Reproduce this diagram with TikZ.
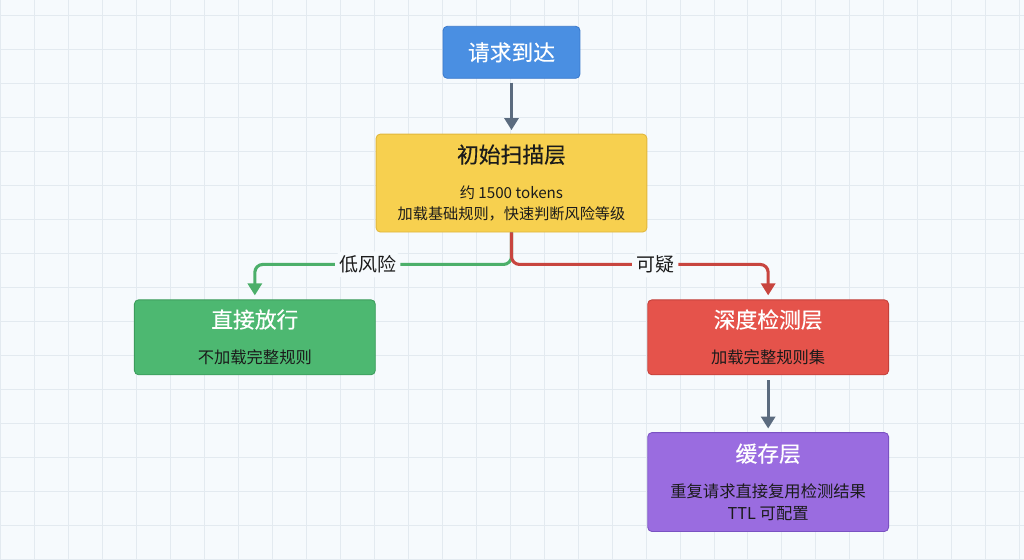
\documentclass[tikz,border=0pt]{standalone}
\usepackage{fontspec}
\setmainfont{Noto Sans CJK SC}
\usetikzlibrary{arrows.meta,positioning}
\definecolor{canvas}{HTML}{F6FAFD}
\definecolor{gridc}{HTML}{E3EAF0}
\definecolor{reqfill}{HTML}{4A8FE2}
\definecolor{reqline}{HTML}{3A79CC}
\definecolor{scanfill}{HTML}{F7D04F}
\definecolor{scanline}{HTML}{E0B63C}
\definecolor{passfill}{HTML}{4DB871}
\definecolor{passline}{HTML}{3C9C5C}
\definecolor{deepfill}{HTML}{E5534B}
\definecolor{deepline}{HTML}{C3403A}
\definecolor{cachefill}{HTML}{9A6CE0}
\definecolor{cacheline}{HTML}{7A52C2}
\definecolor{slate}{HTML}{5B6B7F}
\definecolor{lowc}{HTML}{4CAF6A}
\definecolor{suspc}{HTML}{C8453F}
\definecolor{ink}{HTML}{1B1B1B}
\newcommand{\ttl}{\fontsize{15.5pt}{19pt}\selectfont\addfontfeature{FakeBold=0.4}}
\newcommand{\bodyS}{\fontsize{10.8pt}{15.6pt}\selectfont}
\newcommand{\bodyM}{\fontsize{11.6pt}{15.6pt}\selectfont}

\begin{document}
\begin{tikzpicture}[
    node distance=1.375cm,
    box/.style={
        rounded corners=3pt,
        align=center,
        line width=0.6pt,
        inner sep=2pt
    },
    wide/.style={
        box,
        minimum width=6.025cm,
        minimum height=1.875cm
    },
    arr/.style={
        -{Triangle[width=0.35cm,length=0.3cm]},
        line width=2.2pt,
        draw=slate,
        shorten <=0.1cm,
        shorten >=0.09cm
    },
    branch/.style={
        -{Triangle[width=0.35cm,length=0.3cm]},
        line width=2.2pt,
        rounded corners=0.2cm,
        shorten >=0.1cm
    },
    tag/.style={
        fill=canvas,
        inner sep=3pt,
        text=ink,
        font=\fontsize{13.5pt}{16pt}\selectfont
    }
]

% canvas
\fill[canvas] (0,0) rectangle (25.6,13.975);
\draw[gridc,line width=0.5pt] (0,0) grid[step=0.85] (25.6,13.975);
\useasboundingbox (0,0) rectangle (25.6,13.975);

\node[
    box,
    draw=reqline,
    fill=reqfill,
    text=white,
    font=\ttl,
    minimum width=3.425cm,
    minimum height=1.3cm
] (req) at (12.7875,12.675)
{请求到达};

\node[
    box,
    draw=scanline,
    fill=scanfill,
    text=ink,
    font=\bodyS,
    minimum width=6.775cm,
    minimum height=2.45cm,
    below=of req
] (scan)
{{\ttl 初始扫描层}\\[9.5pt]
约 1500 tokens\\
加载基础规则，快速判断风险等级};

\node[
    wide,
    draw=passline,
    fill=passfill,
    text=ink,
    font=\bodyM,
    below left=1.675cm and 0cm of scan.south west
] (pass)
{{\ttl\color{white} 直接放行}\\[10pt]
不加载完整规则};

\node[
    wide,
    draw=deepline,
    fill=deepfill,
    text=ink,
    font=\bodyM,
    below right=1.675cm and 0cm of scan.south east
] (deep)
{{\ttl\color{white} 深度检测层}\\[10pt]
加载完整规则集};

\node[
    wide,
    draw=cacheline,
    fill=cachefill,
    text=ink,
    font=\bodyM,
    minimum height=2.475cm,
    below=1.425cm of deep
] (cache)
{{\ttl\color{white} 缓存层}\\[9.7pt]
重复请求直接复用检测结果\\
TTL 可配置};

\coordinate[below=0.8cm of scan.south] (fork);

\draw[arr] (req)--(scan);
\draw[branch,draw=lowc] (scan.south)--(fork)-|node[tag,pos=0.28]{低风险}(pass.north);
\draw[branch,draw=suspc] (scan.south)--(fork)-|node[tag,pos=0.28]{可疑}(deep.north);
\draw[arr,shorten <=0.13cm] (deep)--(cache);

\end{tikzpicture}
\end{document}
